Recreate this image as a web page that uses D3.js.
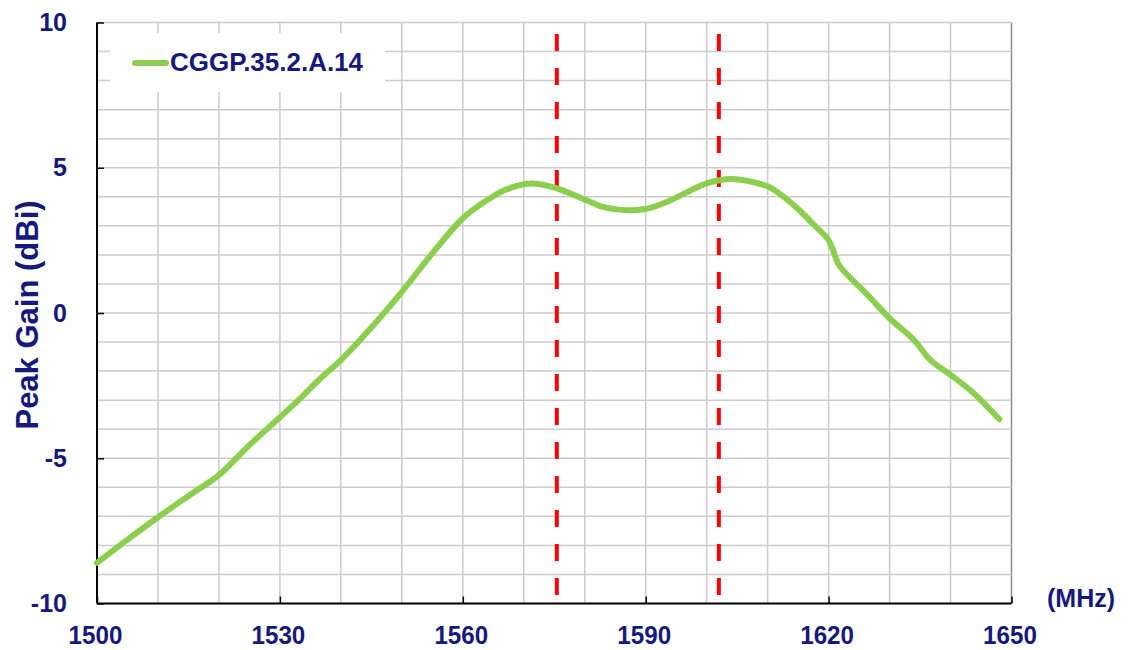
<!DOCTYPE html>
<html>
<head>
<meta charset="utf-8">
<script src="https://cdn.jsdelivr.net/npm/d3@7/dist/d3.min.js"></script>
<style>
  html, body { margin: 0; padding: 0; background: #ffffff; }
  svg { display: block; }
  text { font-family: Arial, "Liberation Sans", sans-serif; font-weight: bold; }
</style>
</head>
<body>
<svg id="chart" width="1128" height="650"></svg>
<script>
// ---- data ----
const seriesName = "CGGP.35.2.A.14";
const freqMHz = [1500, 1505, 1510, 1515, 1520, 1522.3, 1525, 1530, 1533.3, 1536.5, 1540, 1545, 1550, 1555, 1560, 1563, 1565, 1567, 1570, 1572, 1575.3, 1580, 1583, 1586, 1590, 1593.5, 1597, 1600, 1604, 1607.7, 1610, 1612, 1615.4, 1617.6, 1619.8, 1620.6, 1621.7, 1623.1, 1626.4, 1630, 1634, 1636.7, 1640, 1643.8, 1648];
const gainDBi = [-8.6, -7.8, -7.03, -6.3, -5.58, -5.12, -4.55, -3.59, -2.95, -2.28, -1.62, -0.5, 0.73, 2.05, 3.26, 3.75, 4.02, 4.24, 4.43, 4.45, 4.3, 3.91, 3.65, 3.55, 3.58, 3.83, 4.18, 4.46, 4.61, 4.5, 4.36, 4.1, 3.5, 3.03, 2.57, 2.23, 1.65, 1.31, 0.62, -0.18, -0.93, -1.62, -2.13, -2.76, -3.66];
const markerFreqs = [1575.42, 1602];
const markerSpan = [9.6, -9.9];
const xTickLabels = [1500, 1530, 1560, 1590, 1620, 1650];
const yTickLabels = [-10, -5, 0, 5, 10];
const xGridStep = 10;
const yGridStep = 1;
const xDomain = [1500, 1650];
const yDomain = [-10, 10];

// ---- layout ----
(function () {
const textColor = "#15187c";
const svg = d3.select("#chart");
const pL = 97, pR = 1011.5, pT = 22.5, pB = 603.5;
const x = d3.scaleLinear().domain(xDomain).range([pL, pR]);
const y = d3.scaleLinear().domain(yDomain).range([pB, pT]);

// grid
const xGrid = d3.range(xDomain[0] + xGridStep, xDomain[1] + 0.001, xGridStep);
const yGrid = d3.range(yDomain[0] + yGridStep, yDomain[1] + 0.001, yGridStep);
const g = svg.append("g");
g.selectAll("line.vg").data(xGrid).join("line")
  .attr("x1", d => x(d)).attr("x2", d => x(d))
  .attr("y1", pT).attr("y2", pB)
  .attr("stroke", d => d === xDomain[1] ? "#8c8c8c" : "#cbcbcb")
  .attr("stroke-width", 1.5);
g.selectAll("line.hg").data(yGrid).join("line")
  .attr("x1", pL).attr("x2", pR)
  .attr("y1", d => y(d)).attr("y2", d => y(d))
  .attr("stroke", "#cbcbcb").attr("stroke-width", 1.5);

// legend box (covers grid)
svg.append("rect").attr("x", 110).attr("y", 33).attr("width", 275).attr("height", 59).attr("fill", "#ffffff");
svg.append("line").attr("x1", 135).attr("x2", 166).attr("y1", 63).attr("y2", 63)
  .attr("stroke", "#8ccf4f").attr("stroke-width", 6).attr("stroke-linecap", "round");
svg.append("text").attr("x", 170).attr("y", 71).attr("fill", textColor)
  .attr("font-size", 26).attr("textLength", 193).attr("lengthAdjust", "spacingAndGlyphs")
  .text(seriesName);

// axes
const fmt = d => String(d);
const yAxis = d3.axisLeft(y).tickValues(yTickLabels).tickSize(-7).tickPadding(30).tickFormat(fmt);
const xAxis = d3.axisBottom(x).tickValues(xTickLabels).tickSize(-7).tickPadding(22).tickFormat(fmt);
const ya = svg.append("g").attr("transform", `translate(${pL},0)`).call(yAxis);
const xa = svg.append("g").attr("transform", `translate(0,${pB})`).call(xAxis);
[ya, xa].forEach(a => {
  a.select(".domain").remove();
  a.selectAll(".tick line").attr("stroke", "#000").attr("stroke-width", 1.5);
  a.selectAll(".tick text").attr("fill", textColor)
    .attr("font-family", "Arial, 'Liberation Sans', sans-serif").attr("font-weight", "bold");
});
ya.selectAll(".tick text").attr("font-size", 25);
xa.selectAll(".tick text").attr("font-size", 26).attr("dx", -2)
  .each(function () {
    const w = this.getComputedTextLength();
    d3.select(this).attr("textLength", w * 0.93).attr("lengthAdjust", "spacingAndGlyphs");
  });
svg.append("line").attr("x1", pL).attr("x2", pL).attr("y1", pT).attr("y2", pB)
  .attr("stroke", "#000").attr("stroke-width", 2);
svg.append("line").attr("x1", pL).attr("x2", pR).attr("y1", pB).attr("y2", pB)
  .attr("stroke", "#000").attr("stroke-width", 2);

// marker lines
svg.selectAll("line.marker").data(markerFreqs).join("line")
  .attr("x1", d => x(d)).attr("x2", d => x(d))
  .attr("y1", y(markerSpan[0])).attr("y2", y(markerSpan[1]))
  .attr("stroke", "#ff0000").attr("stroke-width", 4)
  .attr("stroke-dasharray", "17,17");

// curve
const pts = freqMHz.map((f, i) => [f, gainDBi[i]]);
svg.append("path").datum(pts)
  .attr("fill", "none").attr("stroke", "#8ccf4f").attr("stroke-width", 6)
  .attr("stroke-linecap", "round").attr("stroke-linejoin", "round")
  .attr("d", d3.line().x(d => x(d[0])).y(d => y(d[1])).curve(d3.curveCatmullRom.alpha(0.5)));

// titles
svg.append("text").attr("transform", `translate(38,315) rotate(-90)`)
  .attr("text-anchor", "middle").attr("fill", textColor).attr("font-size", 31)
  .text("Peak Gain (dBi)");
svg.append("text").attr("x", 1047).attr("y", 607).attr("fill", textColor)
  .attr("font-size", 25).text("(MHz)");
})();
</script>
</body>
</html>
